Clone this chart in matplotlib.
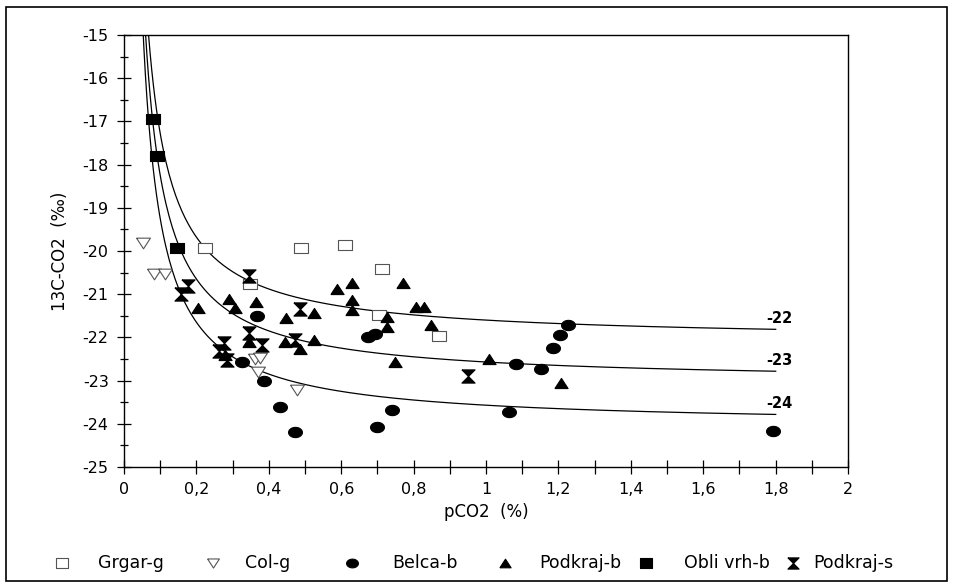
import numpy as np
import matplotlib.pyplot as plt
from matplotlib.patches import Rectangle
from matplotlib.ticker import MultipleLocator, FuncFormatter

plt.rcParams['font.family'] = ['DejaVu Sans']
plt.rcParams['axes.unicode_minus'] = False

# datos: pCO2 (%) y 13C-CO2 (permil) por sitio
grgar_x = [0.224, 0.49, 0.61, 0.712, 0.348, 0.703, 0.871]
grgar_y = [-19.93, -19.94, -19.86, -20.42, -20.77, -21.48, -21.97]

col_x = [0.052, 0.083, 0.113, 0.362, 0.376, 0.371, 0.477]
col_y = [-19.82, -20.54, -20.54, -22.50, -22.48, -22.79, -23.22]

belca_x = [0.367, 0.325, 0.388, 0.431, 0.472, 0.74, 0.698, 0.675, 0.693,
           1.083, 1.151, 1.064, 1.226, 1.205, 1.185, 1.792]
belca_y = [-21.50, -22.58, -23.02, -23.62, -24.18, -23.67, -24.07, -21.98, -21.92,
           -22.62, -22.74, -23.72, -21.71, -21.94, -22.25, -24.17]

podb_x = [0.205, 0.289, 0.307, 0.364, 0.448, 0.526, 0.589, 0.629, 0.629, 0.629,
          0.770, 0.807, 0.829, 0.727, 0.727, 0.847, 0.749, 1.009, 1.207,
          0.346, 0.445, 0.485, 0.526, 0.28]
podb_y = [-21.33, -21.10, -21.33, -21.17, -21.56, -21.43, -20.89, -20.75, -21.13, -21.37,
          -20.73, -21.30, -21.29, -21.52, -21.77, -21.71, -22.56, -22.51, -23.05,
          -22.10, -22.10, -22.28, -22.05, -22.40]

obli_x = [0.081, 0.090, 0.145]
obli_y = [-16.94, -17.80, -19.92]

pods_x = [0.157, 0.178, 0.346, 0.486, 0.346, 0.380, 0.276, 0.262, 0.284, 0.472, 0.949]
pods_y = [-21.00, -20.80, -20.59, -21.35, -21.89, -22.18, -22.12, -22.32, -22.52, -22.06, -22.89]

# curvas de mezcla: y = asintota + k / pCO2
curve_labels = [-22, -23, -24]
curve_asym = [-22.08, -23.05, -24.05]
curve_k = 0.48
curve_xmax = 1.8

# marcadores (ensanchados como en el original)
rect = [(-1.3, -1), (1.3, -1), (1.3, 1), (-1.3, 1), (-1.3, -1)]
tri_up = [(-1.3, -1), (1.3, -1), (0, 1), (-1.3, -1)]
tri_dn = [(-1.3, 1), (1.3, 1), (0, -1), (-1.3, 1)]
t = np.linspace(0, 2 * np.pi, 40)
ellipse = list(zip(1.35 * np.cos(t), np.sin(t)))
hourglass = [(-1, 1), (1, 1), (-1, -1), (1, -1), (-1, 1)]

series = [
    ("Grgar-g", grgar_x, grgar_y, rect, 'white', '#555555', 10),
    ("Col-g", col_x, col_y, tri_dn, 'white', '#555555', 10),
    ("Belca-b", belca_x, belca_y, ellipse, 'black', 'black', 10),
    ("Podkraj-b", podb_x, podb_y, tri_up, 'black', 'black', 9.5),
    ("Obli vrh-b", obli_x, obli_y, rect, 'black', 'black', 10),
    ("Podkraj-s", pods_x, pods_y, hourglass, 'black', 'black', 9.5),
]

fig = plt.figure(figsize=(9.54, 5.88), dpi=100)
ax = fig.add_axes([0.130, 0.2058, 0.759, 0.7347])

xs = np.linspace(0.05, curve_xmax, 400)
for lab, a in zip(curve_labels, curve_asym):
    ys = a + curve_k / xs
    ax.plot(xs, ys, color='black', lw=0.9, zorder=1)
    ax.text(curve_xmax + 0.01, ys[-1] + 0.07, str(lab), fontsize=10.5,
            fontweight='bold', ha='center', va='bottom')

for name, x, y, m, fc, ec, ms in series:
    ax.plot(x, y, linestyle='none', marker=m, markersize=ms,
            markerfacecolor=fc, markeredgecolor=ec, markeredgewidth=0.8,
            zorder=3, clip_on=False)

ax.set_xlim(0, 2)
ax.set_ylim(-25, -15)
ax.xaxis.set_major_locator(MultipleLocator(0.2))
ax.xaxis.set_minor_locator(MultipleLocator(0.1))
ax.yaxis.set_major_locator(MultipleLocator(1))
ax.yaxis.set_minor_locator(MultipleLocator(0.5))
fmt = FuncFormatter(lambda v, p: ('%g' % round(v, 2)).replace('.', ','))
ax.xaxis.set_major_formatter(fmt)
ax.yaxis.set_major_formatter(fmt)
ax.tick_params(axis='both', which='major', direction='inout', length=10,
               width=0.9, labelsize=11.5, pad=6)
ax.tick_params(axis='x', which='minor', direction='inout', length=10, width=0.9)
ax.tick_params(axis='y', which='minor', direction='inout', length=6, width=0.9)
for s in ax.spines.values():
    s.set_linewidth(1.0)

ax.set_xlabel("pCO2  (%)", fontsize=12, labelpad=4)
ax.set_ylabel("13C-CO2  (‰)", fontsize=12, labelpad=10)

# leyenda colocada a mano bajo el grafico
leg_mx = [62, 213, 352, 505, 646, 793]
leg_tx = [98, 245, 392, 539, 684, 813]
leg_y = 1 - 563 / 588
for (name, x, y, m, fc, ec, ms), mx, tx in zip(series, leg_mx, leg_tx):
    fig.lines.append(plt.Line2D([mx / 954], [leg_y], transform=fig.transFigure,
                                linestyle='none', marker=m, markersize=ms * 0.85,
                                markerfacecolor=fc, markeredgecolor=ec,
                                markeredgewidth=0.8))
    fig.text(tx / 954, leg_y, name, fontsize=12.5, ha='left', va='center')

fig.patches.append(Rectangle((6 / 954, 7 / 588), 941 / 954, 574 / 588,
                             transform=fig.transFigure, fill=False,
                             edgecolor='black', lw=1.2))

fig.savefig("out.png", dpi=100)
